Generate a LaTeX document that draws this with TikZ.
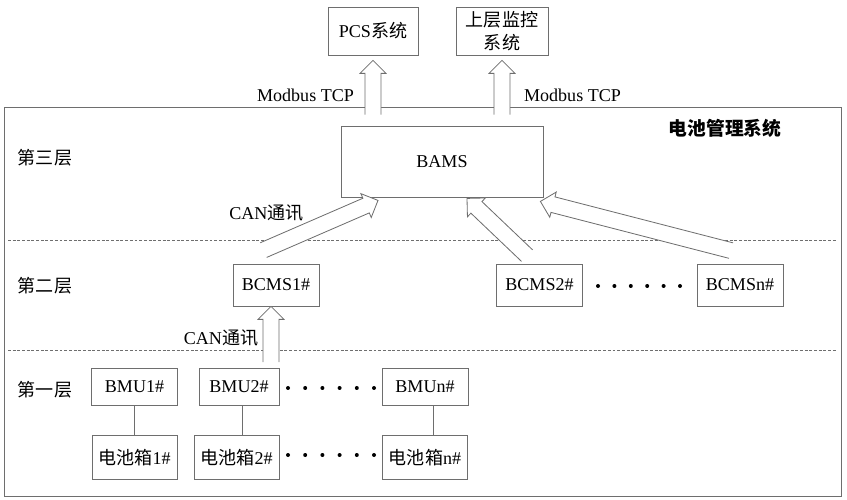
\documentclass[tikz,border=0pt]{standalone}
\usepackage{fontspec}
\setmainfont{Liberation Serif}
\newfontfamily\zhfont{Noto Sans CJK SC}
\usepackage{tikz}
\usetikzlibrary{positioning, calc}
\usepackage{xcolor}
\definecolor{linegray}{RGB}{110,110,110}
\newcommand{\zh}[1]{{\zhfont #1}}
% hollow arrow, open at the tail: \blockarrow{tail}{tip}
\newcommand{\blockarrow}[2]{%
    \path ($(#2)!3.9mm!(#1)$) coordinate (ba-head);
    \draw[blockar] ($(#1)!2.4mm!90:(#2)$) -- ($(ba-head)!2.4mm!90:(#2)$) -- ($(ba-head)!3.9mm!90:(#2)$)
        -- (#2) -- ($(ba-head)!3.9mm!-90:(#2)$) -- ($(ba-head)!2.4mm!-90:(#2)$) -- ($(#1)!2.4mm!-90:(#2)$);
}

\begin{document}
\begin{tikzpicture}[
    x=0.3mm, y=-0.3mm,
    font=\fontsize{15.4}{19}\selectfont,
    box/.style={draw=linegray, line width=0.7pt, minimum width=#1, minimum height=12.6mm, inner sep=1pt, align=center},
    box/.default=25.8mm,
    frame/.style={draw=linegray, line width=0.7pt, minimum width=251.1mm, minimum height=116.7mm, inner sep=0pt},
    layer/.style={linegray, line width=0.6pt, dash pattern=on 2.5pt off 1.5pt},
    link/.style={linegray, line width=0.7pt},
    blockar/.style={draw=linegray, fill=white, line width=0.7pt, line join=miter},
    tag/.style={font=\fontsize{15.4}{19}\selectfont\zhfont},
]
    \useasboundingbox (0,0) rectangle (847,500);

    % Outside systems
    \node[box=27mm, minimum height=14.4mm] (pcs) at (373,31) {PCS\zh{系统}};
    \node[box=27.6mm, minimum height=14.4mm] (upper) at (502,31) {\zh{上层监控}\\[1pt]\zh{系统}};

    % Battery management system
    \node[frame] (bms) at (422.5,301.5) {};
    \node[font=\fontsize{16}{19}\selectfont\zhfont\bfseries] (bmstitle) at (725,128) {电池管理系统};

    % Layers
    \node[tag] (lay3) at (45,158) {第三层};
    \node[tag] (lay2) at (45,286) {第二层};
    \node[tag] (lay1) at (45,390) {第一层};
    \draw[layer] (8,240) -- (836,240);
    \draw[layer] (8,350) -- (836,350);

    % Third layer
    \node[box=60.6mm, minimum height=21.3mm] (bams) at (442,161.5) {BAMS};

    % Second layer
    \node[box] (bcms1) at (276,285) {BCMS1\#};
    \node[box] (bcms2) at (539.5,285) {BCMS2\#};
    \node[box] (bcmsn) at (740,285) {BCMSn\#};

    % First layer
    \node[box, minimum height=11.1mm] (bmu1) at (134.5,387) {BMU1\#};
    \node[box=24mm, minimum height=11.1mm] (bmu2) at (239,387) {BMU2\#};
    \node[box, minimum height=11.1mm] (bmun) at (425,387) {BMUn\#};
    \node[box=25.5mm, minimum height=13.2mm, below=8.7mm of bmu1] (cell1) {\zh{电池箱}1\#};
    \node[box=25.5mm, minimum height=13.2mm, below=8.7mm of bmu2, xshift=-0.75mm] (cell2) {\zh{电池箱}2\#};
    \node[box=25.5mm, minimum height=13.2mm, below=8.7mm of bmun] (celln) {\zh{电池箱}n\#};

    \draw[link] (bmu1.south) -- (cell1.north);
    \draw[link] ([xshift=0.9mm]bmu2.south) -- ++(0,29);
    \draw[link] ([xshift=2.4mm]bmun.south) -- ++(0,29);

    % Dots
    \foreach \i in {0,...,5} {
        \fill (288+\i*17.2,388) circle (0.6mm);
        \fill (288+\i*17.2,455) circle (0.6mm);
        \fill (598+\i*16.4,286) circle (0.6mm);
    }

    % Labels
    \node (mb1) at (305.5,95) {Modbus TCP};
    \node (mb2) at (572.5,95) {Modbus TCP};
    \node (can1) at (266.5,213) {CAN\zh{通讯}};
    \node (can2) at (221,338) {CAN\zh{通讯}};

    % Arrows
    \coordinate (pcs-tail) at ($(bams.north -| pcs.south)+(0,-11)$);
    \coordinate (pcs-tip) at ($(pcs.south)+(0,5)$);
    \coordinate (upper-tail) at ($(bams.north -| upper.south)+(0,-11)$);
    \coordinate (upper-tip) at ($(upper.south)+(0,5)$);
    \coordinate (b1-tail) at ($(bcms1.north)+(-12.5,-13.5)$);
    \coordinate (b1-tip) at ($(bams.south)+(-64,3)$);
    \coordinate (b2-tail) at ($(bcms2.north)+(-12.5,-8)$);
    \coordinate (b2-tip) at ($(bams.south)+(25,1)$);
    \coordinate (bn-tail) at ($(bcmsn.north)+(-9,-13)$);
    \coordinate (bn-tip) at ($(bams.south east)+(-3,4)$);
    \coordinate (m2-tail) at ($(bmu2.north)+(32,-6)$);
    \coordinate (m2-tip) at ($(bcms1.south)+(-5,0)$);

    \blockarrow{pcs-tail}{pcs-tip}
    \blockarrow{upper-tail}{upper-tip}
    \blockarrow{b1-tail}{b1-tip}
    \blockarrow{b2-tail}{b2-tip}
    \blockarrow{bn-tail}{bn-tip}
    \blockarrow{m2-tail}{m2-tip}

\end{tikzpicture}
\end{document}
